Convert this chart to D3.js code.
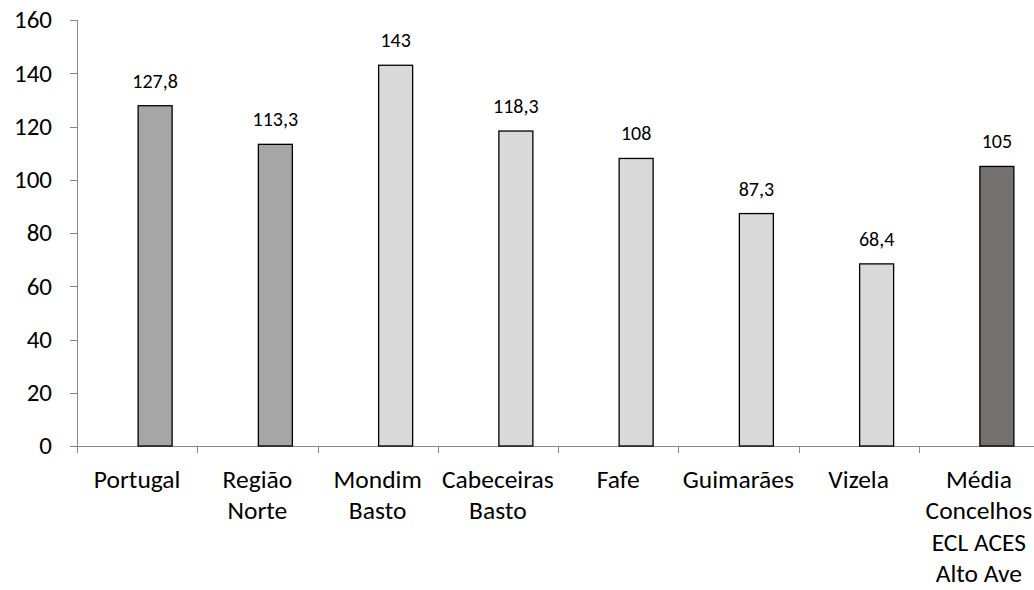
<!DOCTYPE html>
<html>
<head>
<meta charset="utf-8">
<script src="https://cdn.jsdelivr.net/npm/d3@7"></script>
<style>
	html, body { margin:0; background:#fff; }
	svg text { font-family: Carlito, Lato, "Open Sans", sans-serif; fill:#000; }
</style>
</head>
<body>
<svg id="chart" width="1034" height="590"></svg>
<script>
// chart data
var categories = ["Portugal", "Região\nNorte", "Mondim\nBasto", "Cabeceiras\nBasto", "Fafe", "Guimarães", "Vizela", "Média\nConcelhos\nECL ACES\nAlto Ave"];
var values = [127.8, 113.3, 143, 118.3, 108, 87.3, 68.4, 105];
var labels = ["127,8", "113,3", "143", "118,3", "108", "87,3", "68,4", "105"];
var colors = ["#a6a6a6", "#a6a6a6", "#d9d9d9", "#d9d9d9", "#d9d9d9", "#d9d9d9", "#d9d9d9", "#767171"];
var yTicks = [0, 20, 40, 60, 80, 100, 120, 140, 160];

var svg = d3.select("#chart");
var mLeft = 77, mRight = 1039, mTop = 20, mBottom = 446;

var x = d3.scaleBand().domain(d3.range(categories.length)).range([mLeft, mRight]);
var y = d3.scaleLinear().domain([0, 160]).range([mBottom, mTop]);

// y axis
svg.append("line").attr("x1", mLeft + .5).attr("x2", mLeft + .5).attr("y1", mTop).attr("y2", mBottom)
	.attr("stroke", "#868686");
yTicks.forEach(function(t){
	var yy = Math.round(y(t)) + .5;
	svg.append("line").attr("x1", mLeft - 7).attr("x2", mLeft).attr("y1", yy).attr("y2", yy).attr("stroke", "#868686");
	svg.append("text").attr("x", 52).attr("y", y(t)).attr("dy", "0.33em")
		.attr("text-anchor", "end").style("font-size", "25px").text(t);
});

// x axis
svg.append("line").attr("x1", mLeft).attr("x2", 1034).attr("y1", mBottom + .5).attr("y2", mBottom + .5)
	.attr("stroke", "#868686");
d3.range(categories.length + 1).forEach(function(i){
	var xx = Math.round(mLeft + i * x.step()) + .5;
	svg.append("line").attr("x1", xx).attr("x2", xx).attr("y1", mBottom).attr("y2", mBottom + 7).attr("stroke", "#868686");
});

// bars (offset right of band centre, like an empty first series)
var bw = 34, off = 18;
var g = svg.append("g");
g.selectAll("rect").data(values).enter().append("rect")
	.attr("x", function(d, i){ return x(i) + x.bandwidth() / 2 + off - bw / 2; })
	.attr("y", function(d){ return y(d); })
	.attr("width", bw)
	.attr("height", function(d){ return mBottom - y(d); })
	.attr("fill", function(d, i){ return colors[i]; })
	.attr("stroke", "#000").attr("stroke-width", 1.3);

g.selectAll("text.val").data(values).enter().append("text").attr("class", "val")
	.attr("x", function(d, i){ return x(i) + x.bandwidth() / 2 + off; })
	.attr("y", function(d){ return y(d) - 18; })
	.attr("text-anchor", "middle").style("font-size", "20px")
	.text(function(d, i){ return labels[i]; });

// category labels
categories.forEach(function(c, i){
	var t = svg.append("text").attr("text-anchor", "middle").style("font-size", "25.5px")
		.attr("x", x(i) + x.bandwidth() / 2).attr("y", 488);
	c.split("\n").forEach(function(line, j){
		t.append("tspan").attr("x", x(i) + x.bandwidth() / 2).attr("dy", j ? 31.3 : 0).text(line);
	});
});
</script>
</body>
</html>
